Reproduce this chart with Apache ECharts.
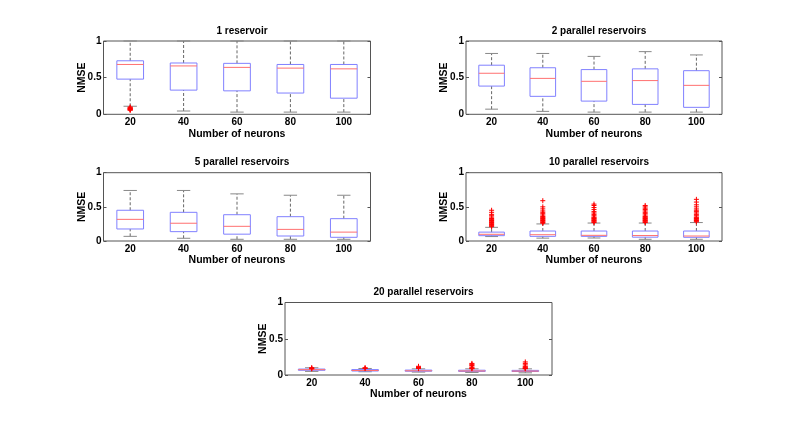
<!DOCTYPE html>
<html>
<head>
<meta charset="utf-8">
<script src="https://cdn.jsdelivr.net/npm/echarts@6/dist/echarts.min.js"></script>
<style>
  html, body { margin: 0; padding: 0; background: #fff; }
  #chart { width: 798px; height: 423px; }
</style>
</head>
<body>
<div id="chart"></div>
<script>
// categories and tick labels
const neurons = ['20', '40', '60', '80', '100'];
const yTicks = [0, 0.5, 1];
const titles = ['1 reservoir', '2 parallel reservoirs', '5 parallel reservoirs',
  '10 parallel reservoirs', '20 parallel reservoirs'];

// box stats per category: [min, q1, median, q3, max]
const box1 = [[0.11, 0.48, 0.68, 0.73, 1.0], [0.045, 0.33, 0.66, 0.70, 1.0],
  [0.03, 0.32, 0.64, 0.695, 1.0], [0.03, 0.29, 0.63, 0.68, 1.0], [0.03, 0.22, 0.62, 0.68, 1.0]];
const box2 = [[0.07, 0.385, 0.56, 0.67, 0.83], [0.04, 0.245, 0.49, 0.635, 0.83],
  [0.03, 0.18, 0.45, 0.61, 0.79], [0.03, 0.135, 0.46, 0.62, 0.855], [0.03, 0.095, 0.395, 0.595, 0.81]];
const box3 = [[0.068, 0.176, 0.317, 0.45, 0.74], [0.04, 0.137, 0.26, 0.42, 0.74],
  [0.025, 0.10, 0.215, 0.385, 0.69], [0.025, 0.073, 0.17, 0.356, 0.67], [0.025, 0.054, 0.13, 0.327, 0.67]];
const box4 = [[0.065, 0.078, 0.098, 0.13, 0.2], [0.042, 0.068, 0.092, 0.146, 0.25],
  [0.044, 0.068, 0.083, 0.146, 0.263], [0.025, 0.056, 0.08, 0.146, 0.263], [0.025, 0.054, 0.073, 0.146, 0.27]];
const box5 = [[0.05, 0.065, 0.074, 0.082, 0.1], [0.045, 0.055, 0.062, 0.075, 0.09],
  [0.04, 0.052, 0.058, 0.068, 0.085], [0.035, 0.05, 0.056, 0.066, 0.085], [0.03, 0.048, 0.054, 0.064, 0.085]];

// outliers per category
const out1 = [[0.10, 0.09, 0.085, 0.08, 0.075, 0.07, 0.065, 0.06, 0.055], [], [], [], []];
const out2 = [[], [], [], [], []];
const out3 = [[], [], [], [], []];
const out4 = [
  [0.21, 0.22, 0.23, 0.24, 0.25, 0.26, 0.27, 0.28, 0.29, 0.30, 0.31, 0.32, 0.33, 0.35, 0.37, 0.39, 0.42, 0.45],
  [0.26, 0.27, 0.28, 0.29, 0.30, 0.31, 0.32, 0.33, 0.34, 0.35, 0.36, 0.38, 0.40, 0.42, 0.44, 0.47, 0.50, 0.59],
  [0.27, 0.28, 0.29, 0.30, 0.31, 0.32, 0.33, 0.34, 0.35, 0.37, 0.39, 0.41, 0.43, 0.46, 0.49, 0.52, 0.54],
  [0.27, 0.28, 0.29, 0.30, 0.31, 0.32, 0.33, 0.34, 0.35, 0.36, 0.38, 0.40, 0.42, 0.44, 0.46, 0.48, 0.50, 0.52],
  [0.28, 0.29, 0.30, 0.31, 0.32, 0.33, 0.34, 0.35, 0.37, 0.39, 0.41, 0.43, 0.45, 0.47, 0.50, 0.53, 0.57, 0.61]
];
const out5 = [[0.1, 0.095, 0.09, 0.085], [0.1, 0.095, 0.09], [0.12, 0.11, 0.105, 0.1, 0.095, 0.09],
  [0.16, 0.15, 0.14, 0.13, 0.11, 0.1, 0.09, 0.087], [0.18, 0.16, 0.14, 0.12, 0.11, 0.1, 0.095, 0.09, 0.087]];

const boxes = [box1, box2, box3, box4, box5];
const outliers = [out1, out2, out3, out4, out5];

// grid layout [left, top, width, height]
const layout = [
  [103.5, 41, 267, 73.3],
  [466, 41, 256, 73.3],
  [103.5, 172.7, 267, 68.3],
  [466, 172.7, 256, 68.3],
  [285, 302.5, 267, 72.5]
];

const font = 'Liberation Sans';
const frameColor = '#555';

const chart = echarts.init(document.getElementById('chart'), null, { renderer: 'canvas' });

function renderBox(params, api) {
  const i = api.value(0);
  const x = api.coord([i, 0])[0];
  const bw = api.size([1, 0])[0] * 0.5;
  const cw = bw * 0.5;
  const y = [1, 2, 3, 4, 5].map(k => api.coord([i, api.value(k)])[1]);
  const dash = { stroke: '#666', lineWidth: 1, lineDash: [3, 2] };
  const cap = { stroke: '#888', lineWidth: 1 };
  return {
    type: 'group',
    children: [
      { type: 'line', shape: { x1: x, y1: y[3], x2: x, y2: y[4] }, style: dash },
      { type: 'line', shape: { x1: x, y1: y[0], x2: x, y2: y[1] }, style: dash },
      { type: 'line', shape: { x1: x - cw / 2, y1: y[4], x2: x + cw / 2, y2: y[4] }, style: cap },
      { type: 'line', shape: { x1: x - cw / 2, y1: y[0], x2: x + cw / 2, y2: y[0] }, style: cap },
      { type: 'rect', shape: { x: x - bw / 2, y: y[3], width: bw, height: y[1] - y[3] },
        style: { fill: 'none', stroke: '#8080ff', lineWidth: 1 } },
      { type: 'line', shape: { x1: x - bw / 2, y1: y[2], x2: x + bw / 2, y2: y[2] },
        style: { stroke: '#ff7070', lineWidth: 1 } }
    ]
  };
}

function renderPlus(params, api) {
  const p = api.coord([api.value(0), api.value(1)]);
  const s = 2.5;
  const st = { stroke: '#ff0000', lineWidth: 1 };
  return {
    type: 'group',
    children: [
      { type: 'line', shape: { x1: p[0] - s, y1: p[1], x2: p[0] + s, y2: p[1] }, style: st },
      { type: 'line', shape: { x1: p[0], y1: p[1] - s, x2: p[0], y2: p[1] + s }, style: st }
    ]
  };
}

const option = {
  animation: false,
  backgroundColor: '#fff',
  title: [],
  grid: [],
  xAxis: [],
  yAxis: [],
  series: []
};

layout.forEach((g, k) => {
  option.grid.push({
    left: g[0], top: g[1], width: g[2], height: g[3],
    show: true, borderColor: frameColor, borderWidth: 1, backgroundColor: '#fff'
  });
  option.title.push({
    text: titles[k],
    left: g[0] + g[2] / 2,
    top: g[1] - 20,
    textAlign: 'center',
    textStyle: { fontFamily: font, fontWeight: 'bold', fontSize: 10, color: '#000' }
  });
  option.xAxis.push({
    type: 'category', gridIndex: k, data: neurons,
    name: 'Number of neurons', nameLocation: 'middle', nameGap: 8,
    nameTextStyle: { fontFamily: font, fontWeight: 'bold', fontSize: 10.5, color: '#000' },
    axisLine: { show: false }, axisTick: { show: false }, splitLine: { show: false },
    axisLabel: { fontFamily: font, fontWeight: 'bold', fontSize: 10, color: '#000', margin: 3 }
  });
  option.yAxis.push({
    type: 'value', gridIndex: k, min: yTicks[0], max: yTicks[yTicks.length - 1], interval: 0.5,
    name: 'NMSE', nameLocation: 'middle', nameGap: 16, nameRotate: 90, nameMoveOverlap: false,
    nameTextStyle: { fontFamily: font, fontWeight: 'bold', fontSize: 10.5, color: '#000' },
    axisLine: { show: false }, splitLine: { show: false },
    axisTick: { show: true, inside: true, length: 3, lineStyle: { color: frameColor } },
    axisLabel: { fontFamily: font, fontWeight: 'bold', fontSize: 10, color: '#000', margin: 2,
      formatter: v => String(v) }
  });
  option.yAxis.push({
    type: 'value', gridIndex: k, position: 'right', min: 0, max: 1, interval: 0.5,
    axisLine: { show: false }, splitLine: { show: false }, axisLabel: { show: false },
    axisTick: { show: true, inside: true, length: 3, lineStyle: { color: frameColor } }
  });
  option.series.push({
    type: 'custom', xAxisIndex: k, yAxisIndex: 2 * k,
    renderItem: renderBox, clip: false,
    data: boxes[k].map((b, i) => [i].concat(b))
  });
  const pts = [];
  outliers[k].forEach((list, i) => list.forEach(v => pts.push([i, v])));
  option.series.push({
    type: 'custom', xAxisIndex: k, yAxisIndex: 2 * k,
    renderItem: renderPlus, data: pts
  });
});

chart.setOption(option);
</script>
</body>
</html>
